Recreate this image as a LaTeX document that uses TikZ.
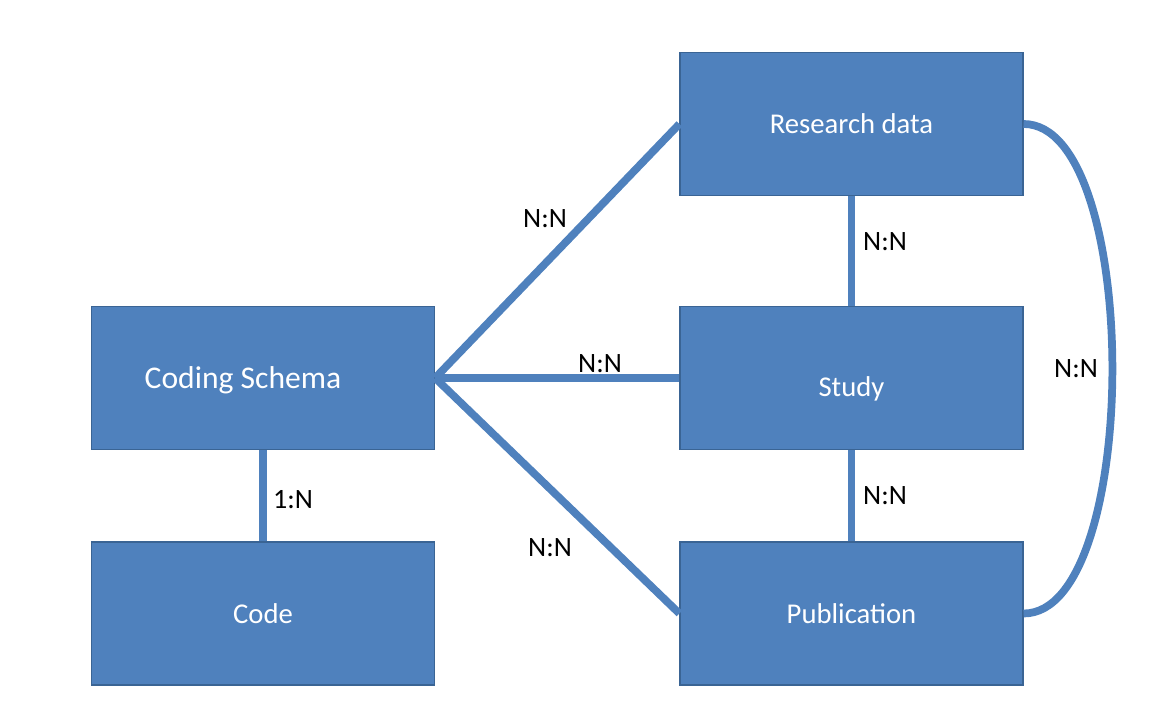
\documentclass[tikz,border=0pt]{standalone}
\usepackage{fontspec}
\setmainfont{Carlito}
\definecolor{boxblue}{HTML}{4F81BD}
\definecolor{boxedge}{HTML}{3A6494}

\begin{document}
\begin{tikzpicture}
[
x=0.75pt, y=-0.75pt,
entity/.style={rectangle, draw=boxedge, fill=boxblue, line width=1.2pt, minimum width=257pt, minimum height=107pt, text=white, font=\fontsize{21.5}{26}\selectfont},
link/.style={draw=boxblue, line width=5.8pt},
card/.style={font=\fontsize{21}{25}\selectfont, inner sep=0pt}
]
\useasboundingbox (0,0) rectangle (1156,727);

\node[entity] (rdata) at (851.5,124) {Research data};
\node[entity, label={[white, font=\fontsize{21.5}{26}\selectfont, yshift=-8.5pt]center:Study}] (study) at (851.5,378) {};
\node[entity] (pub) at (851.5,613.5) {Publication};
\node[entity, label={[white, font=\fontsize{23.7}{28}\selectfont, xshift=-15pt, yshift=-2pt]center:Coding Schema}] (csch) at (263,378) {};
\node[entity] (code) at (263,613.5) {Code};

\draw[link] (csch.east) -- (rdata.west);
\draw[link] (csch.east) -- (study.west);
\draw[link] (csch.east) -- (pub.west);
\draw[link] (csch.south) -- (code.north);
\draw[link] (rdata.south) -- (study.north);
\draw[link] (study.south) -- (pub.north);
\draw[link] (rdata.east) to[out=0, in=0, looseness=0.62] (pub.east);

\node[card] (c1) at (545,219) {N:N};
\node[card] (c2) at (885,242) {N:N};
\node[card] (c3) at (600,364) {N:N};
\node[card] (c4) at (1076,369) {N:N};
\node[card] (c5) at (293,500) {1:N};
\node[card] (c6) at (885,496) {N:N};
\node[card] (c7) at (550,548) {N:N};
\end{tikzpicture}
\end{document}
